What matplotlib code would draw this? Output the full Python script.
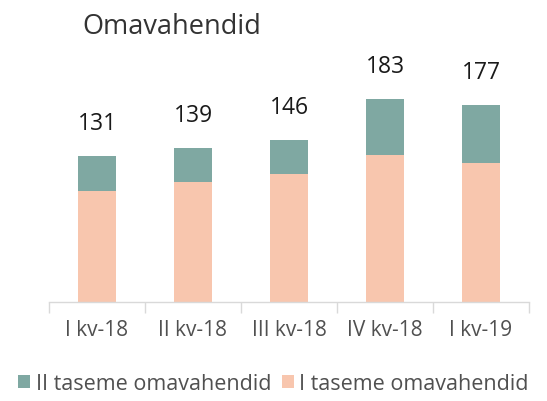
import matplotlib.pyplot as plt
import numpy as np

plt.rcParams['font.family'] = ['Open Sans', 'DejaVu Sans']

kvartalid = ['I kv-18', 'II kv-18', 'III kv-18', 'IV kv-18', 'I kv-19']
tase1 = [100, 108, 115, 132, 125]
tase2 = [31, 31, 31, 51, 52]
kokku = [131, 139, 146, 183, 177]

c_tase1 = '#F8C6AE'
c_tase2 = '#7FA8A2'

fig = plt.figure(figsize=(5.47, 4.02), dpi=100)
ax = fig.add_axes([49/547, 1 - 303/402, 480/547, 243/402])

x = np.arange(len(kvartalid))
ax.bar(x, tase1, width=0.4, color=c_tase1, label='I taseme omavahendid')
ax.bar(x, tase2, width=0.4, bottom=tase1, color=c_tase2, label='II taseme omavahendid')

for xi, k in zip(x, kokku):
    ax.annotate(str(k), (xi, k), xytext=(0, 33), textcoords='offset pixels',
                ha='center', va='center', fontsize=16.5, color='#1a1a1a')

ax.set_xlim(-0.5, 4.5)
ax.set_ylim(0, 243/1.111)
ax.set_yticks([])
for s in ['top', 'right', 'left']:
    ax.spines[s].set_visible(False)
ax.spines['bottom'].set_color('#D9D9D9')
ax.spines['bottom'].set_linewidth(1)

ax.set_xticks(x)
ax.set_xticklabels(kvartalid, fontsize=15, color='#505050')
ax.tick_params(axis='x', which='major', length=0, pad=12)
ax.set_xticks(np.arange(-0.5, 5, 1), minor=True)
ax.tick_params(axis='x', which='minor', length=8, color='#D9D9D9', width=1)

fig.text(82/547, 1 - 27/402, 'Omavahendid', fontsize=19.5, color='#333333',
         ha='left', va='center')

h, l = ax.get_legend_handles_labels()
fig.legend(h[::-1], l[::-1], loc='center', bbox_to_anchor=(0.5, 1 - 385/402),
           ncol=2, frameon=False, fontsize=15.5, handlelength=0.55, handleheight=0.55,
           handletextpad=0.25, columnspacing=0.5, labelcolor='#505050')

fig.savefig('out.png', dpi=100)
